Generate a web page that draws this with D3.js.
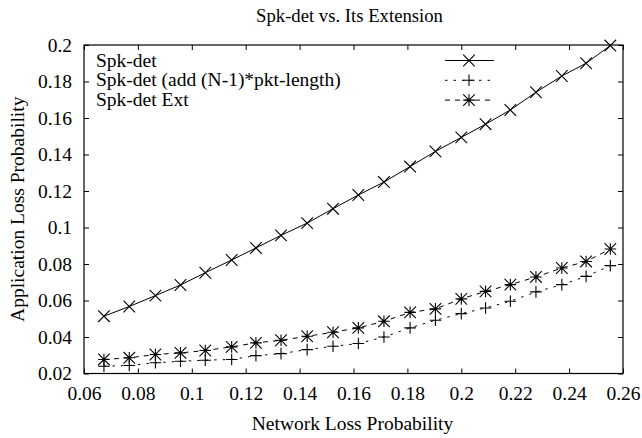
<!DOCTYPE html>
<html>
<head>
<meta charset="utf-8">
<script src="https://cdn.jsdelivr.net/npm/d3@7"></script>
<style>
  html, body { margin: 0; padding: 0; background: #fff; }
  svg { display: block; }
  text { font-family: "Liberation Serif", "Times New Roman", serif; fill: #000; }
</style>
</head>
<body>
<svg id="chart" width="642" height="438"></svg>
<script>
// Network loss probability (x) for each simulation run
const networkLoss = [0.0674, 0.0768, 0.0865, 0.0958, 0.1050, 0.1148, 0.1238, 0.1331, 0.1428, 0.1524,
                     0.1618, 0.1713, 0.1810, 0.1904, 0.2000, 0.2090, 0.2182, 0.2277, 0.2373, 0.2463, 0.2553];
// Application loss probability for each scheme
const spkDet = [0.0514, 0.0567, 0.0627, 0.0685, 0.0752, 0.0822, 0.0888, 0.0957, 0.1024, 0.1103,
                0.1178, 0.1249, 0.1334, 0.1417, 0.1494, 0.1566, 0.1644, 0.1741, 0.1830, 0.1900, 0.1997];
const spkDetAdd = [0.0240, 0.0244, 0.0259, 0.0267, 0.0273, 0.0277, 0.0298, 0.0309, 0.0331, 0.0349,
                   0.0364, 0.0400, 0.0450, 0.0492, 0.0528, 0.0559, 0.0596, 0.0647, 0.0687, 0.0732, 0.0791];
const spkDetExt = [0.0277, 0.0286, 0.0304, 0.0313, 0.0326, 0.0346, 0.0368, 0.0382, 0.0404, 0.0426,
                   0.0450, 0.0486, 0.0535, 0.0554, 0.0609, 0.0650, 0.0687, 0.0729, 0.0778, 0.0814, 0.0882];
const seriesNames = ["Spk-det", "Spk-det (add (N-1)*pkt-length)", "Spk-det Ext"];
const xTicks = [0.06, 0.08, 0.1, 0.12, 0.14, 0.16, 0.18, 0.2, 0.22, 0.24, 0.26];
const yTicks = [0.02, 0.04, 0.06, 0.08, 0.1, 0.12, 0.14, 0.16, 0.18, 0.2];
const titleText = "Spk-det vs. Its Extension";
const xLabel = "Network Loss Probability";
const yLabel = "Application Loss Probability";

const series = [
  { name: seriesNames[0], values: spkDet,    marker: "x",    dash: null },
  { name: seriesNames[1], values: spkDetAdd, marker: "plus", dash: "2.5,6" },
  { name: seriesNames[2], values: spkDetExt, marker: "star", dash: "5,5" }
];

const plot = { left: 84, right: 623, top: 45, bottom: 373.5 };
const FS = 19.5;

const svg = d3.select("#chart");
const x = d3.scaleLinear().domain([0.06, 0.26]).range([plot.left, plot.right]);
const y = d3.scaleLinear().domain([0.02, 0.2]).range([plot.bottom, plot.top]);

const fmt = d => String(+d.toFixed(2));

// Axes with inward ticks; mirrored on top and right without labels
function styleAxis(g) {
  g.select(".domain").remove();
  g.selectAll(".tick line").attr("stroke", "#000").attr("stroke-width", 1);
  g.selectAll(".tick text").attr("font-size", FS).attr("font-family", "Liberation Serif, Times New Roman, serif").attr("fill", "#000");
}
svg.append("g").attr("transform", `translate(0,${plot.bottom})`)
  .call(d3.axisBottom(x).tickValues(xTicks).tickFormat(fmt).tickSize(-5).tickPadding(12.5))
  .call(styleAxis);
svg.append("g").attr("transform", `translate(0,${plot.top})`)
  .call(d3.axisTop(x).tickValues(xTicks).tickFormat("").tickSize(-5))
  .call(styleAxis);
svg.append("g").attr("transform", `translate(${plot.left},0)`)
  .call(d3.axisLeft(y).tickValues(yTicks).tickFormat(fmt).tickSize(-5).tickPadding(12))
  .call(styleAxis);
svg.append("g").attr("transform", `translate(${plot.right},0)`)
  .call(d3.axisRight(y).tickValues(yTicks).tickFormat("").tickSize(-5))
  .call(styleAxis);

// Plot frame
svg.append("rect")
  .attr("x", plot.left).attr("y", plot.top)
  .attr("width", plot.right - plot.left).attr("height", plot.bottom - plot.top)
  .attr("fill", "none").attr("stroke", "#000").attr("stroke-width", 1.2);

// Titles
svg.append("text").attr("x", (plot.left + plot.right) / 2 - 4).attr("y", 22)
  .attr("text-anchor", "middle").attr("font-size", 18.7).text(titleText);
svg.append("text").attr("x", (plot.left + plot.right) / 2 - 1).attr("y", 430)
  .attr("text-anchor", "middle").attr("font-size", FS).text(xLabel);
svg.append("text")
  .attr("transform", `translate(24,${(plot.top + plot.bottom) / 2}) rotate(-90)`)
  .attr("text-anchor", "middle").attr("font-size", FS).text(yLabel);

// Marker shapes: cross, plus, and star (cross + plus)
const S = 5.8;
function markerPath(type, cx, cy) {
  const p = d3.path();
  if (type === "x" || type === "star") {
    p.moveTo(cx - S, cy - S); p.lineTo(cx + S, cy + S);
    p.moveTo(cx - S, cy + S); p.lineTo(cx + S, cy - S);
  }
  if (type === "plus" || type === "star") {
    p.moveTo(cx - S, cy); p.lineTo(cx + S, cy);
    p.moveTo(cx, cy - S); p.lineTo(cx, cy + S);
  }
  return p.toString();
}

const line = d3.line().x(d => x(d[0])).y(d => y(d[1]));

series.forEach(s => {
  const pts = networkLoss.map((v, i) => [v, s.values[i]]);
  const g = svg.append("g");
  g.append("path").datum(pts).attr("d", line)
    .attr("fill", "none").attr("stroke", "#000").attr("stroke-width", 1)
    .attr("stroke-dasharray", s.dash);
  g.selectAll("path.mk").data(pts).join("path").attr("class", "mk")
    .attr("d", d => markerPath(s.marker, x(d[0]), y(d[1])))
    .attr("fill", "none").attr("stroke", "#000").attr("stroke-width", 1.1);
});

// Legend
const legend = svg.append("g");
series.forEach((s, i) => {
  const cy = 60.5 + i * 19.8;
  legend.append("text").attr("x", 96).attr("y", cy + 6).attr("font-size", FS).text(s.name);
  legend.append("line").attr("x1", 445).attr("x2", 494).attr("y1", cy).attr("y2", cy)
    .attr("stroke", "#000").attr("stroke-width", 1).attr("stroke-dasharray", s.dash);
  legend.append("path").attr("d", markerPath(s.marker, 469, cy))
    .attr("fill", "none").attr("stroke", "#000").attr("stroke-width", 1.1);
});
</script>
</body>
</html>
